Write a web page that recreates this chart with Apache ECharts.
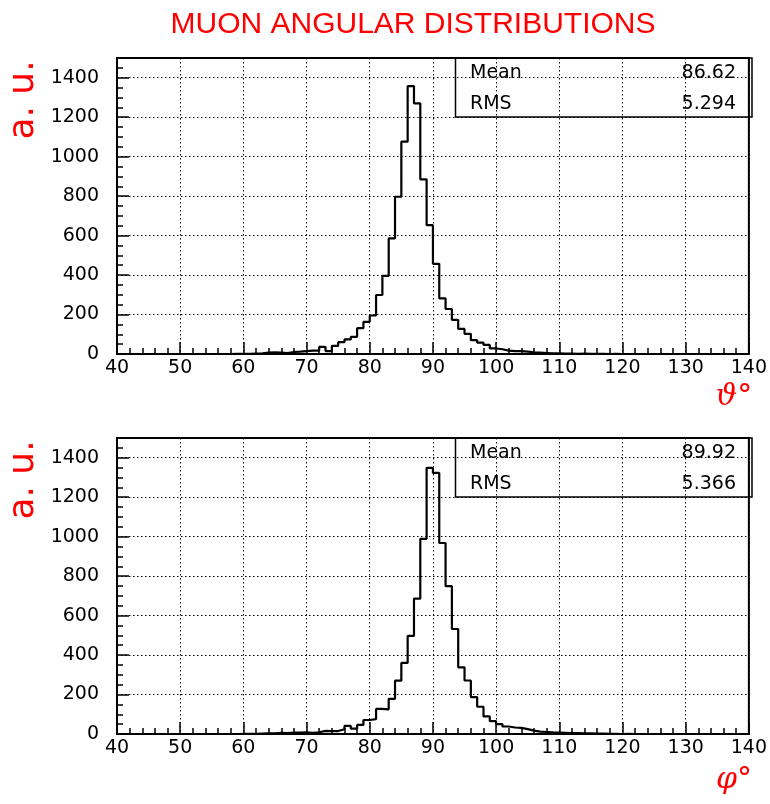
<!DOCTYPE html>
<html>
<head>
<meta charset="utf-8">
<script src="https://cdn.jsdelivr.net/npm/echarts@6/dist/echarts.min.js"></script>
<style>
  html, body { margin: 0; padding: 0; background: #fff; }
  #chart { width: 770px; height: 804px; }
</style>
</head>
<body>
<div id="chart"></div>
<script>
// ---------------- data ----------------
const chartTitle = 'MUON ANGULAR DISTRIBUTIONS';
const binStart = 40;      // lower edge of first bin (degrees)
const binWidth = 1;       // bin width (degrees)
const xRange = [40, 140];
const yRange = [0, 1500];
const xMajorStep = 10, xMinorStep = 2;
const yMajorStep = 200, yMinorStep = 50;

// theta histogram, bins 40..139
const thetaCounts = [
  0, 0, 0, 0, 0, 0, 0, 0, 0, 0,
  0, 0, 0, 0, 0, 0, 0, 0, 1, 1,
  1, 2, 3, 7, 8, 7, 5, 10, 12, 15,
  17, 17, 36, 15, 41, 60, 74, 87, 131, 163,
  195, 299, 396, 586, 797, 1076, 1357, 1270, 885, 653,
  457, 282, 228, 173, 127, 102, 70, 58, 46, 28,
  24, 17, 15, 15, 12, 9, 7, 5, 3, 3,
  2, 2, 1, 2, 1, 1, 1, 0, 1, 0,
  0, 0, 0, 0, 0, 0, 0, 0, 0, 0,
  0, 0, 0, 0, 0, 0, 0, 0, 0, 0
];
// phi histogram, bins 40..139
const phiCounts = [
  0, 0, 0, 0, 0, 0, 0, 0, 0, 0,
  0, 0, 0, 0, 0, 0, 0, 0, 0, 1,
  1, 1, 2, 3, 3, 6, 5, 7, 7, 8,
  6, 9, 16, 15, 15, 24, 41, 27, 46, 71,
  75, 127, 125, 178, 270, 360, 497, 686, 989, 1349,
  1323, 968, 749, 532, 338, 271, 187, 138, 89, 65,
  50, 38, 33, 31, 25, 17, 12, 10, 8, 7,
  6, 5, 4, 3, 3, 2, 2, 1, 1, 0,
  1, 0, 0, 0, 0, 0, 0, 0, 0, 0,
  0, 0, 0, 0, 0, 0, 0, 0, 0, 0
];
const statNames = ['Mean', 'RMS'];
const thetaStats = ['86.62', '5.294'];
const phiStats = ['89.92', '5.366'];
const yAxisTitle = 'a. u.';
const thetaAxisTitle = 'ϑ°';
const phiAxisTitle = 'φ°';

// ---------------- build ----------------
function histPoints(counts) {
  const pts = counts.map((v, i) => [binStart + i * binWidth, v]);
  pts.push([binStart + counts.length * binWidth, counts[counts.length - 1]]);
  return pts;
}

const tickFont = { color: '#000', fontSize: 19, fontFamily: 'DejaVu Sans', formatter: v => String(v) };
const dotted = { color: '#000', width: 1, type: [1.5, 2.5] };

const grids = [
  { left: 117, top: 58, width: 635, height: 296 },
  { left: 117, top: 438, width: 635, height: 296 }
].map(g => Object.assign(g, { show: true, borderColor: '#000', borderWidth: 2, backgroundColor: 'transparent', containLabel: false }));

const xAxes = [], yAxes = [];
[0, 1].forEach(gi => {
  xAxes.push({
    type: 'value', gridIndex: gi, position: 'bottom',
    min: xRange[0], max: xRange[1], interval: xMajorStep,
    axisLine: { show: true, onZero: false, lineStyle: { color: '#000', width: 2 } },
    axisTick: { show: true, inside: true, length: 12, lineStyle: { color: '#000', width: 1.5 } },
    axisLabel: Object.assign({ margin: 5, showMinLabel: true, showMaxLabel: true, hideOverlap: false }, tickFont),
    splitLine: { show: true, lineStyle: dotted },
    minorTick: { show: false }
  });
  xAxes.push({
    type: 'value', gridIndex: gi, position: 'bottom',
    min: xRange[0], max: xRange[1], interval: xMinorStep,
    axisLine: { show: false, onZero: false },
    axisTick: { show: true, inside: true, length: 6, lineStyle: { color: '#000', width: 1.5 } },
    axisLabel: { show: false },
    splitLine: { show: false }
  });
  yAxes.push({
    type: 'value', gridIndex: gi, position: 'left',
    min: yRange[0], max: yRange[1], interval: yMajorStep,
    axisLine: { show: true, onZero: false, lineStyle: { color: '#000', width: 2 } },
    axisTick: { show: true, inside: true, length: 12, lineStyle: { color: '#000', width: 1.5 } },
    axisLabel: Object.assign({ margin: 18, showMaxLabel: false, hideOverlap: false }, tickFont),
    splitLine: { show: true, lineStyle: dotted }
  });
  yAxes.push({
    type: 'value', gridIndex: gi, position: 'left',
    min: yRange[0], max: yRange[1], interval: yMinorStep,
    axisLine: { show: false, onZero: false },
    axisTick: { show: true, inside: true, length: 6, lineStyle: { color: '#000', width: 1.5 } },
    axisLabel: { show: false },
    splitLine: { show: false }
  });
});

function histSeries(counts, gi) {
  return {
    type: 'line', step: 'end', xAxisIndex: gi * 2, yAxisIndex: gi * 2,
    data: histPoints(counts), symbol: 'none', silent: true, clip: true,
    lineStyle: { color: '#000', width: 2.2 }, z: 5
  };
}

const red = '#ff0000';
const graphics = [];
graphics.push({ type: 'text', x: 413, y: 25, style: { text: chartTitle, fill: red, font: '30px "Liberation Sans"', textAlign: 'center', textVerticalAlign: 'middle' } });
[{ top: 58, stats: thetaStats, xname: thetaAxisTitle, xnameY: 397 },
 { top: 438, stats: phiStats, xname: phiAxisTitle, xnameY: 780 }].forEach(p => {
  graphics.push({ type: 'rect', shape: { x: 455.5, y: p.top, width: 296.5, height: 59 }, style: { fill: 'none', stroke: '#000', lineWidth: 1.5 }, z: 10 });
  statNames.forEach((n, i) => {
    const cy = p.top + 15 + i * 31;
    graphics.push({ type: 'text', x: 470, y: cy, style: { text: n, fill: '#000', font: '19px "DejaVu Sans"', textAlign: 'left', textVerticalAlign: 'middle' }, z: 10 });
    graphics.push({ type: 'text', x: 736, y: cy, style: { text: p.stats[i], fill: '#000', font: '19px "DejaVu Sans"', textAlign: 'right', textVerticalAlign: 'middle' }, z: 10 });
  });
  graphics.push({ type: 'text', x: 24, y: p.top + 42, rotation: Math.PI / 2, style: { text: yAxisTitle, fill: red, font: '36px "DejaVu Sans"', textAlign: 'center', textVerticalAlign: 'middle' }, z: 10 });
  graphics.push({ type: 'text', x: 734, y: p.xnameY, style: { text: p.xname, fill: red, font: 'italic 30px "DejaVu Serif"', textAlign: 'center', textVerticalAlign: 'middle' }, z: 10 });
});

const chart = echarts.init(document.getElementById('chart'), null, { renderer: 'canvas' });
chart.setOption({
  backgroundColor: '#fff',
  animation: false,
  grid: grids,
  xAxis: xAxes,
  yAxis: yAxes,
  series: [histSeries(thetaCounts, 0), histSeries(phiCounts, 1)],
  graphic: graphics
});
</script>
</body>
</html>
